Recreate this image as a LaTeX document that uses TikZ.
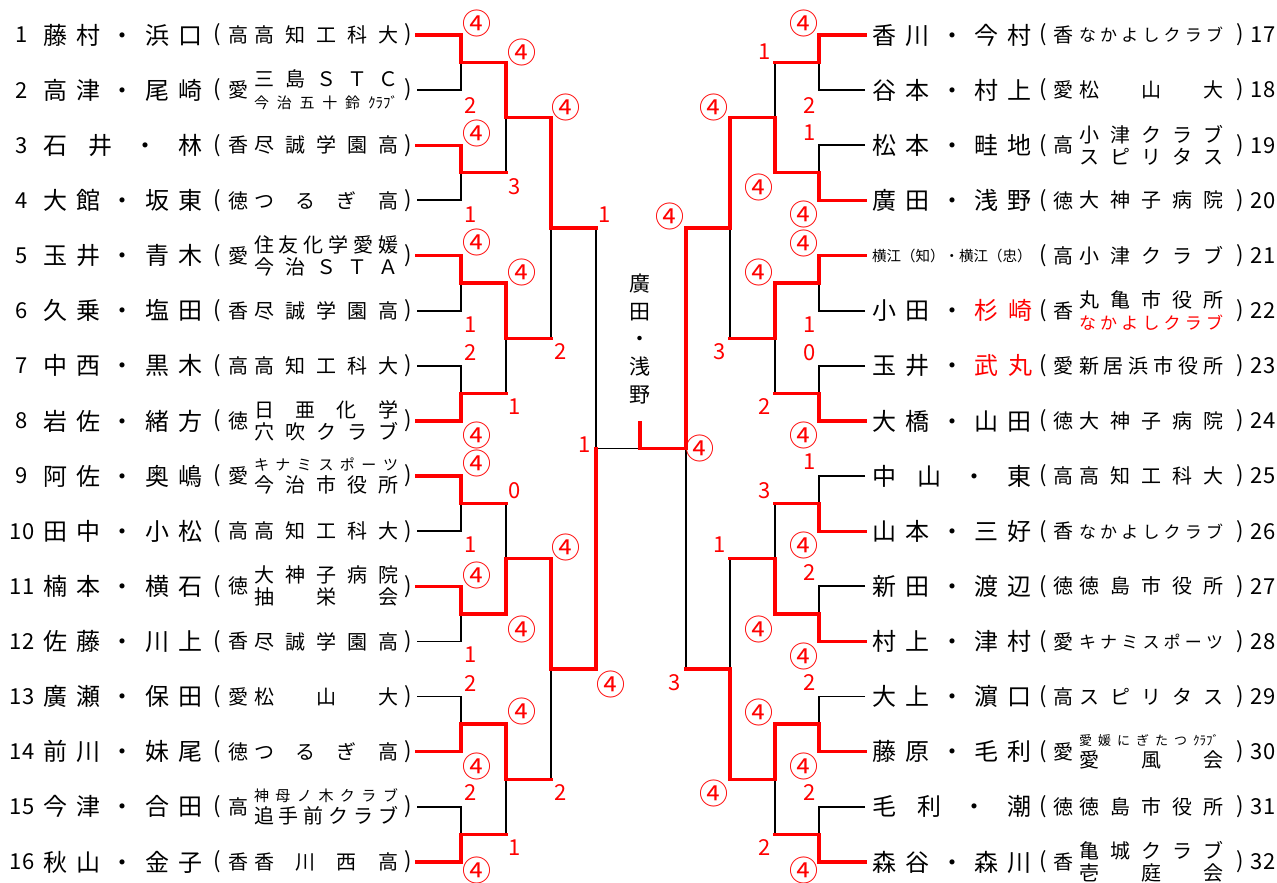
\documentclass[tikz,border=0pt]{standalone}
\usepackage{fontspec}
\setmainfont{Noto Sans CJK JP}
\usetikzlibrary{positioning,calc}

\pgfdeclarelayer{bg}
\pgfsetlayers{bg,main}

\tikzset{
  win/.style={draw=red, line width=3.3pt, line cap=rect},
  lose/.style={draw=black, line width=1.8pt},
  score/.style={text=red, font=\fontsize{22}{22}\selectfont, inner sep=0pt},
  num/.style={font=\fontsize{22}{22}\selectfont, inner sep=0pt},
  who/.style={font=\fontsize{24}{24}\selectfont, inner sep=0pt},
  paren/.style={font=\fontsize{22}{22}\selectfont, inner sep=0pt},
  pref/.style={font=\fontsize{20}{20}\selectfont, inner sep=0pt},
  club/.style={font=\fontsize{20}{20}\selectfont, inner sep=0pt},
  champ/.style={font=\fontsize{21}{27.7}\selectfont, align=center, inner sep=0pt}
}

% circled four, the winning score
\newcommand{\cir}{{\fontsize{29}{29}\selectfont ④}}

% team names, spread over the box
\newcommand{\team}[1]{\makebox[144pt][s]{#1}}
\newcommand{\teamS}[1]{{\fontsize{15}{15}\selectfont\makebox[144pt][s]{#1}}}
\newcommand{\teamK}[1]{{\fontsize{17}{17}\selectfont\makebox[144pt][s]{#1}}}
\newcommand{\teamX}[1]{{\fontsize{13}{13}\selectfont\makebox[140pt][s]{#1}}}
\newcommand{\twoline}[2]{\vbox{\baselineskip=22pt\hbox{#1}\hbox{#2}}}

% one entry, left half
\newcommand{\rowL}[4]{%
  \pgfmathsetmacro{\yy}{35+55.13*(#1-1)}
  \node[num]   (no#1)  at (22,\yy)  {#1};
  \node[who]   (who#1) at (123,\yy) {\makebox[160pt][s]{#2}};
  \node[paren] (lp#1)  at (217,\yy) {(};
  \node[pref]  (pf#1)  at (238,\yy) {#3};
  \node[club]  (cl#1)  at (326,\yy) {#4};
  \node[paren] (rp#1)  at (408,\yy) {)};
}
% one entry, right half
\newcommand{\rowR}[4]{%
  \pgfmathsetmacro{\yy}{35+55.13*(#1-17)}
  \node[who]   (who#1) at (952,\yy)  {\makebox[160pt][s]{#2}};
  \node[paren] (lp#1)  at (1043,\yy) {(};
  \node[pref]  (pf#1)  at (1063,\yy) {#3};
  \node[club]  (cl#1)  at (1151,\yy) {#4};
  \node[paren] (rp#1)  at (1240,\yy) {)};
  \node[num]   (no#1)  at (1263,\yy) {#1};
}

% first round: winner, loser, out point
\newcommand{\roundone}[3]{%
  \begin{pgfonlayer}{bg}
    \draw[lose] (e#2) -- (a#2) -- (a#2 |- b#3);
  \end{pgfonlayer}
  \draw[win] (e#1) -- (a#1) -- (a#1 |- b#3) -- (b#3);
}
% later rounds: winner in, loser in, out point
\newcommand{\bout}[3]{%
  \begin{pgfonlayer}{bg}
    \draw[lose] (#2) -- (#2 |- #3);
  \end{pgfonlayer}
  \draw[win] (#1) -- (#1 |- #3) -- (#3);
}

\begin{document}
\begin{tikzpicture}[x=1pt, y=-1pt]
    \useasboundingbox (0,0) rectangle (1277,883);

    % entry points and bracket points
    \foreach \k in {1,...,16} {
        \pgfmathsetmacro{\yy}{35+55.13*(\k-1)}
        \pgfmathtruncatemacro{\kk}{\k+16}
        \coordinate (e\k) at (417,\yy);
        \coordinate (a\k) at (461,\yy);
        \coordinate (e\kk) at (865,\yy);
        \coordinate (a\kk) at (819,\yy);
    }
    \foreach \m in {1,...,8} {
        \pgfmathsetmacro{\yy}{35+55.13*(2*\m-1.5)}
        \pgfmathtruncatemacro{\mm}{\m+8}
        \coordinate (b\m) at (506,\yy);
        \coordinate (b\mm) at (775,\yy);
    }
    \foreach \n in {1,...,4} {
        \pgfmathsetmacro{\yy}{35+55.13*(4*\n-2.5)}
        \pgfmathtruncatemacro{\nn}{\n+4}
        \coordinate (c\n) at (551,\yy);
        \coordinate (c\nn) at (730,\yy);
    }
    \coordinate (d1) at (596,{35+55.13*3.5});
    \coordinate (d2) at (596,{35+55.13*11.5});
    \coordinate (d3) at (686,{35+55.13*3.5});
    \coordinate (d4) at (686,{35+55.13*11.5});
    \coordinate (fin) at (640,{35+55.13*7.5});
    \coordinate (crown) at (640,423);

    % left half
    \rowL{1}{藤 村 ・ 浜 口}{高}{\team{高 知 工 科 大}}
    \rowL{2}{高 津 ・ 尾 崎}{愛}{\twoline{\team{三 島 Ｓ Ｔ Ｃ}}{\teamS{今 治 五 十 鈴 ｸﾗﾌﾞ}}}
    \rowL{3}{石 井 ・ 林}{香}{\team{尽 誠 学 園 高}}
    \rowL{4}{大 館 ・ 坂 東}{徳}{\team{つ る ぎ 高}}
    \rowL{5}{玉 井 ・ 青 木}{愛}{\twoline{\team{住 友 化 学 愛 媛}}{\team{今 治 Ｓ Ｔ Ａ}}}
    \rowL{6}{久 乗 ・ 塩 田}{香}{\team{尽 誠 学 園 高}}
    \rowL{7}{中 西 ・ 黒 木}{高}{\team{高 知 工 科 大}}
    \rowL{8}{岩 佐 ・ 緒 方}{徳}{\twoline{\team{日 亜 化 学}}{\team{穴 吹 ク ラ ブ}}}
    \rowL{9}{阿 佐 ・ 奥 嶋}{愛}{\twoline{\teamS{キ ナ ミ ス ポ ー ツ}}{\team{今 治 市 役 所}}}
    \rowL{10}{田 中 ・ 小 松}{高}{\team{高 知 工 科 大}}
    \rowL{11}{楠 本 ・ 横 石}{徳}{\twoline{\team{大 神 子 病 院}}{\team{抽 栄 会}}}
    \rowL{12}{佐 藤 ・ 川 上}{香}{\team{尽 誠 学 園 高}}
    \rowL{13}{廣 瀬 ・ 保 田}{愛}{\team{松 山 大}}
    \rowL{14}{前 川 ・ 妹 尾}{徳}{\team{つ る ぎ 高}}
    \rowL{15}{今 津 ・ 合 田}{高}{\twoline{\teamS{神 母 ノ 木 ク ラ ブ}}{\team{追 手 前 ク ラ ブ}}}
    \rowL{16}{秋 山 ・ 金 子}{香}{\team{香 川 西 高}}

    % right half
    \rowR{17}{香 川 ・ 今 村}{香}{\teamK{な か よ し ク ラ ブ}}
    \rowR{18}{谷 本 ・ 村 上}{愛}{\team{松 山 大}}
    \rowR{19}{松 本 ・ 畦 地}{高}{\twoline{\team{小 津 ク ラ ブ}}{\team{ス ピ リ タ ス}}}
    \rowR{20}{廣 田 ・ 浅 野}{徳}{\team{大 神 子 病 院}}
    \rowR{21}{\fontsize{14.5}{15}\selectfont 横江（知）・横江（忠）}{高}{\team{小 津 ク ラ ブ}}
    \rowR{22}{小 田 ・ \textcolor{red}{杉} \textcolor{red}{崎}}{香}{\twoline{\team{丸 亀 市 役 所}}{\textcolor{red}{\teamK{な か よ し ク ラ ブ}}}}
    \rowR{23}{玉 井 ・ \textcolor{red}{武} \textcolor{red}{丸}}{愛}{\team{新 居 浜 市 役 所}}
    \rowR{24}{大 橋 ・ 山 田}{徳}{\team{大 神 子 病 院}}
    \rowR{25}{中 山 ・ 東}{高}{\team{高 知 工 科 大}}
    \rowR{26}{山 本 ・ 三 好}{香}{\teamK{な か よ し ク ラ ブ}}
    \rowR{27}{新 田 ・ 渡 辺}{徳}{\team{徳 島 市 役 所}}
    \rowR{28}{村 上 ・ 津 村}{愛}{\teamK{キ ナ ミ ス ポ ー ツ}}
    \rowR{29}{大 上 ・ 濵 口}{高}{\team{ス ピ リ タ ス}}
    \rowR{30}{藤 原 ・ 毛 利}{愛}{\twoline{\teamX{愛 媛 に ぎ た つ ｸﾗﾌﾞ}}{\team{愛 風 会}}}
    \rowR{31}{毛 利 ・ 潮}{徳}{\team{徳 島 市 役 所}}
    \rowR{32}{森 谷 ・ 森 川}{香}{\twoline{\team{亀 城 ク ラ ブ}}{\team{壱 庭 会}}}

    % first round
    \roundone{1}{2}{1}   \roundone{3}{4}{2}   \roundone{5}{6}{3}   \roundone{8}{7}{4}
    \roundone{9}{10}{5}  \roundone{11}{12}{6} \roundone{14}{13}{7} \roundone{16}{15}{8}
    \roundone{17}{18}{9} \roundone{20}{19}{10} \roundone{21}{22}{11} \roundone{24}{23}{12}
    \roundone{26}{25}{13} \roundone{28}{27}{14} \roundone{30}{29}{15} \roundone{32}{31}{16}

    % second round
    \bout{b1}{b2}{c1}   \bout{b3}{b4}{c2}   \bout{b6}{b5}{c3}   \bout{b7}{b8}{c4}
    \bout{b10}{b9}{c5}  \bout{b11}{b12}{c6} \bout{b14}{b13}{c7} \bout{b15}{b16}{c8}

    % third round
    \bout{c1}{c2}{d1}   \bout{c3}{c4}{d2}
    \bout{c5}{c6}{d3}   \bout{c8}{c7}{d4}

    % semifinals and final
    \begin{pgfonlayer}{bg}
        \draw[lose] (d1) -- (d1 |- fin) -- (fin);
        \draw[lose] (d4) -- (d4 |- fin);
    \end{pgfonlayer}
    \draw[win] (d2) -- (d2 |- fin);
    \draw[win] (d3) -- (d3 |- fin) -- (fin) -- (crown);

    % the winners
    \node[champ] (champ) at (640,339) {廣\\田\\・\\浅\\野};

    % scores
    \foreach \x/\y/\t [count=\i] in {
        477/23/\cir, 471/106/2, 477/133/\cir, 471/215/1, 477/242/\cir, 471/325/1, 471/353/2, 477/435/\cir,
        477/463/\cir, 471/545/1, 477/575/\cir, 471/655/1, 471/684/2, 477/766/\cir, 471/793/2, 477/870/\cir,
        522/52/\cir, 515/187/3, 522/272/\cir, 515/407/1, 515/491/0, 522/629/\cir, 522/711/\cir, 515/848/1,
        566/107/\cir, 561/352/2, 566/547/\cir, 561/793/2,
        605/215/1, 611/684/\cir, 585/445/1, 700/448/\cir, 670/216/\cir, 675/683/3,
        714/107/\cir, 720/352/3, 720/545/1, 714/793/\cir,
        765/52/1, 759/187/\cir, 759/272/\cir, 765/407/2, 765/491/3, 759/629/\cir, 759/712/\cir, 765/848/2,
        804/23/\cir, 810/106/2, 810/133/1, 804/214/\cir, 804/243/\cir, 810/325/1, 810/353/0, 804/435/\cir,
        810/462/1, 804/545/\cir, 810/573/2, 804/656/\cir, 810/683/2, 804/766/\cir, 810/793/2, 804/870/\cir}
        \node[score] (s\i) at (\x,\y) {\t};
\end{tikzpicture}
\end{document}
